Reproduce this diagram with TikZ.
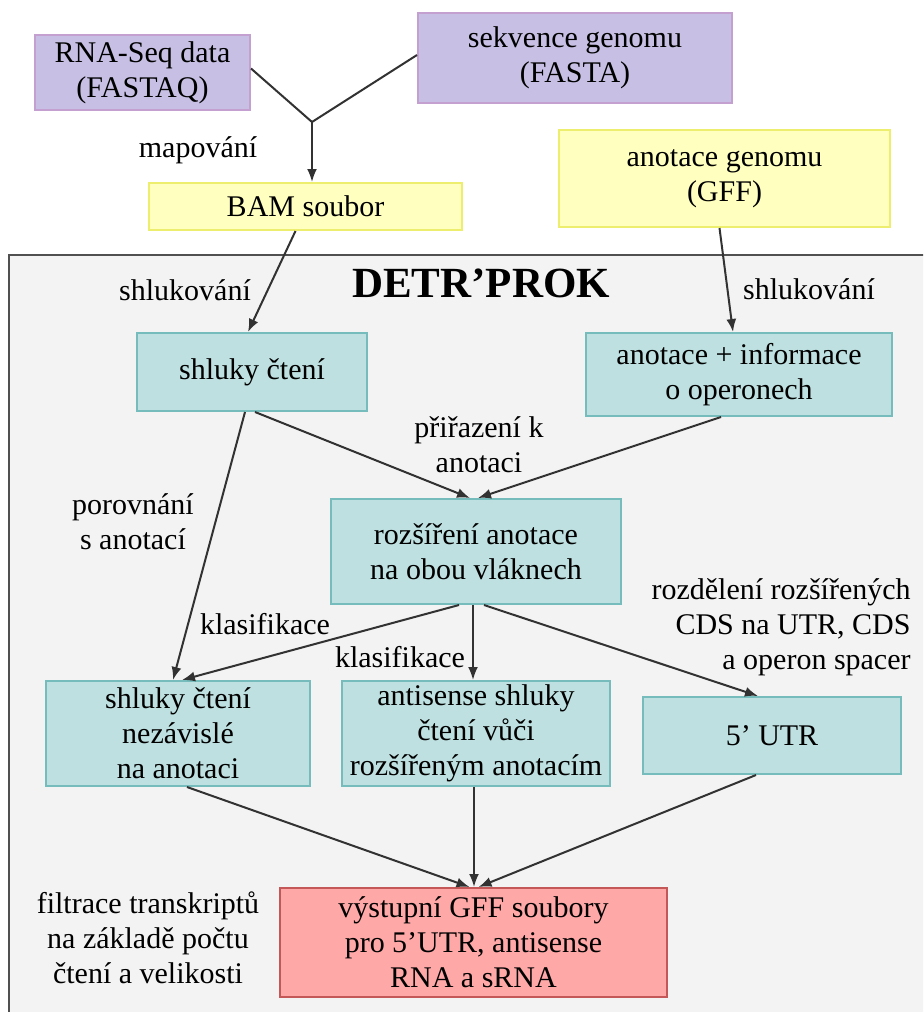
\documentclass[tikz,border=0pt]{standalone}
\usepackage{fontspec}
\setmainfont{LiberationSerif}[Extension=.ttf, UprightFont=*-Regular, BoldFont=*-Bold, ItalicFont=*-Italic, BoldItalicFont=*-BoldItalic]
\usetikzlibrary{calc}
\usetikzlibrary{arrows.meta}

\definecolor{lilacfill}{RGB}{200,192,228}
\definecolor{lilacline}{RGB}{196,160,208}
\definecolor{lemonfill}{RGB}{255,255,192}
\definecolor{lemonline}{RGB}{238,238,110}
\definecolor{tealfill}{RGB}{190,224,224}
\definecolor{tealline}{RGB}{118,188,188}
\definecolor{rosefill}{RGB}{255,168,168}
\definecolor{roseline}{RGB}{196,88,88}
\definecolor{panelfill}{RGB}{243,243,243}
\definecolor{panelline}{RGB}{80,80,80}
\definecolor{wire}{RGB}{50,50,50}

\begin{document}
\begin{tikzpicture}[x=0.5pt,y=-0.5pt,
    every node/.style={font=\fontsize{15}{17.5}\selectfont, align=center, inner sep=0pt},
    lilacbox/.style={draw=lilacline, fill=lilacfill, line width=1pt},
    lemonbox/.style={draw=lemonline, fill=lemonfill, line width=1pt},
    tealbox/.style={draw=tealline, fill=tealfill, line width=1pt},
    rosebox/.style={draw=roseline, fill=rosefill, line width=1pt},
    wireline/.style={draw=wire, line width=1pt},
    arr/.style={wireline, -{Latex[length=6.5pt,width=5pt]}}]
    \clip (0,0) rectangle (923,1012);

    % the DETR'PROK frame
    \draw[draw=panelline, fill=panelfill, line width=1pt] (9,255) rectangle (950,1040);

    % inputs
    \node[lilacbox, minimum width=107.5pt, minimum height=37.5pt] (rnaseq) at (142.5,72.5) {RNA-Seq data\\(FASTAQ)};
    \node[lilacbox, minimum width=157pt, minimum height=45pt] (fasta) at (575,58) {sekvence genomu\\(FASTA)};
    \node[lemonbox, minimum width=156.5pt, minimum height=23.5pt] (bam) at (305.5,206.5) {BAM soubor};
    \node[lemonbox, minimum width=165.5pt, minimum height=48.5pt] (gff) at (724.5,178.5) {anotace genomu\\(GFF)};

    \node[font=\bfseries\fontsize{21.5}{25}\selectfont] (title) at (481,283) {DETR’PROK};

    % steps inside the frame
    \node[tealbox, minimum width=115pt, minimum height=39pt] (clusters) at (252,372) {shluky čtení};
    \node[tealbox, minimum width=153pt, minimum height=41.5pt] (operons) at (739,374.5) {anotace + informace\\o operonech};
    \node[tealbox, minimum width=145pt, minimum height=52.5pt] (extended) at (476,551.5) {rozšíření anotace\\na obou vláknech};
    \node[tealbox, minimum width=132pt, minimum height=52.5pt] (independent) at (178,733.5) {shluky čtení\\nezávislé\\na anotaci};
    \node[tealbox, minimum width=134pt, minimum height=52.5pt] (antisense) at (476,733.5) {antisense shluky\\čtení vůči\\rozšířeným anotacím};
    \node[tealbox, minimum width=129pt, minimum height=38.5pt] (utr) at (772,735.5) {5’ UTR};
    \node[rosebox, minimum width=193.5pt, minimum height=54.5pt] (output) at (473.5,942.5) {výstupní GFF soubory\\pro 5’UTR, antisense\\RNA a sRNA};

    % labels
    \node (mapping) at (198,150) {mapování};
    \node (clusterL) at (185,290) {shlukování};
    \node (clusterR) at (809,289) {shlukování};
    \node (assign) at (479,445) {přiřazení k\\anotaci};
    \node (compare) at (133,522) {porovnání\\s anotací};
    \node (classA) at (265,624) {klasifikace};
    \node (classB) at (400,657) {klasifikace};
    \node[anchor=east, align=right] (split) at (911,627) {rozdělení rozšířených\\CDS na UTR, CDS\\a operon spacer};
    \node (filter) at (148,938) {filtrace transkriptů\\na základě počtu\\čtení a velikosti};

    % connectors
    \coordinate (fork) at (312,122);
    \draw[wireline] ($(rnaseq.east)+(0,-4)$) -- (fork) -- ($(fasta.west)+(0,-3)$);
    \draw[arr] (fork) -- (fork |- bam.north);
    \draw[arr] ($(bam.south)+(-10,0)$) -- ($(clusters.north)+(-4,0)$);
    \draw[arr] ($(gff.south)+(-5,0)$) -- ($(operons.north)+(-6,0)$);
    \draw[arr] ($(clusters.south)+(3,0)$) -- ($(extended.north)+(-6,0)$);
    \draw[arr] ($(operons.south)+(-18,0)$) -- ($(extended.north)+(2,0)$);
    \draw[arr] ($(clusters.south)+(-7,0)$) -- ($(independent.north)+(-5,0)$);
    \draw[arr] ($(extended.south)+(-17,0)$) -- ($(independent.north)+(4,0)$);
    \draw[arr] ($(extended.south)+(-3,0)$) -- ($(antisense.north)+(-3,0)$);
    \draw[arr] ($(extended.south)+(8,0)$) -- ($(utr.north)+(-14,0)$);
    \draw[arr] ($(independent.south)+(9,0)$) -- ($(output.north)+(-4,0)$);
    \draw[arr] ($(antisense.south)+(-2,0)$) -- ($(output.north)+(0.5,0)$);
    \draw[arr] ($(utr.south)+(-16,0)$) -- ($(output.north)+(5,0)$);
\end{tikzpicture}
\end{document}
